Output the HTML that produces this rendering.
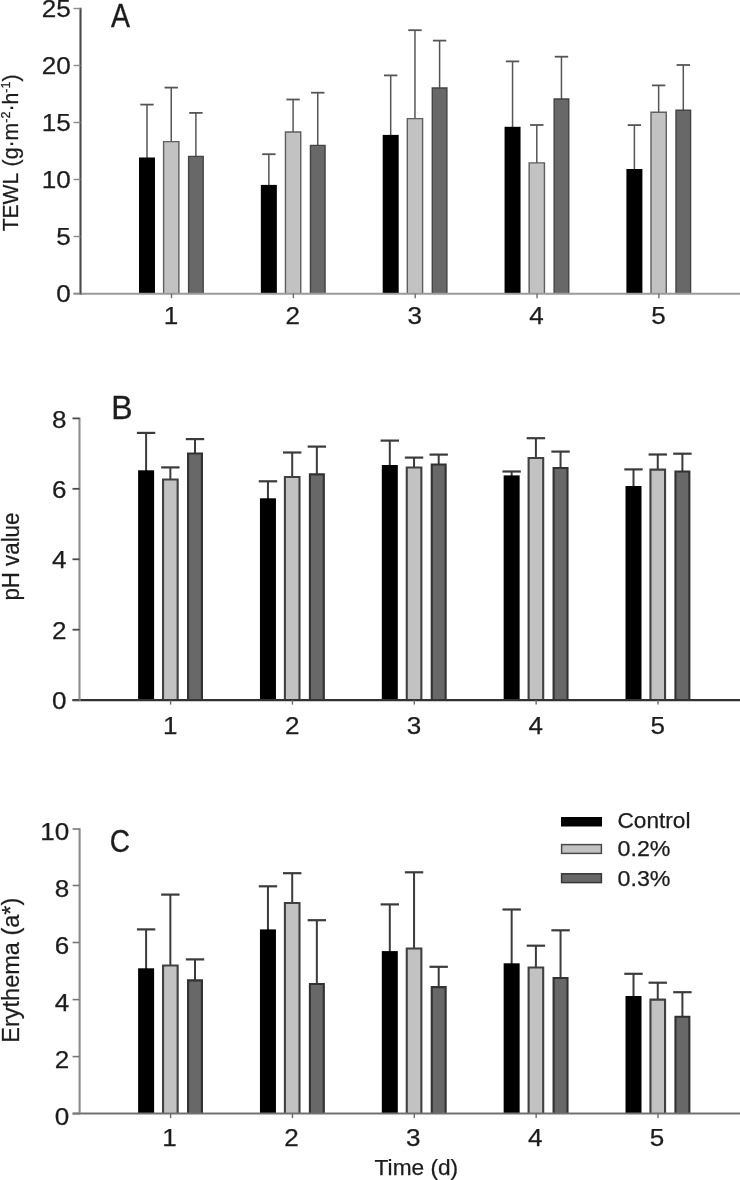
<!DOCTYPE html>
<html><head><meta charset="utf-8"><title>Figure</title>
<style>html,body{margin:0;padding:0;background:#fff}svg{display:block}</style>
</head><body>
<svg width="740" height="1180" viewBox="0 0 740 1180" font-family="Liberation Sans, sans-serif">
<rect x="0" y="0" width="740" height="1180" fill="#ffffff"/>
<defs><filter id="soft" x="-2%" y="-2%" width="104%" height="104%"><feGaussianBlur stdDeviation="0.45"/></filter></defs>
<g filter="url(#soft)">
<g><!-- panel A -->
<line x1="147.00" y1="104.60" x2="147.00" y2="158.50" stroke="#555" stroke-width="1.5"/>
<line x1="140.30" y1="104.60" x2="153.70" y2="104.60" stroke="#555" stroke-width="1.8"/>
<rect x="139.00" y="157.50" width="16" height="136.20" fill="#000"/>
<line x1="171.25" y1="87.60" x2="171.25" y2="141.90" stroke="#555" stroke-width="1.5"/>
<line x1="164.55" y1="87.60" x2="177.95" y2="87.60" stroke="#555" stroke-width="1.8"/>
<path d="M163.60,293.70V141.60H178.90V293.70" fill="#c2c2c2" stroke="#5e5e5e" stroke-width="1.4"/>
<line x1="195.90" y1="112.90" x2="195.90" y2="156.70" stroke="#555" stroke-width="1.5"/>
<line x1="189.20" y1="112.90" x2="202.60" y2="112.90" stroke="#555" stroke-width="1.8"/>
<path d="M188.60,293.70V156.40H203.20V293.70" fill="#676767" stroke="#444444" stroke-width="1.4"/>
<line x1="268.85" y1="154.20" x2="268.85" y2="185.90" stroke="#555" stroke-width="1.5"/>
<line x1="262.15" y1="154.20" x2="275.55" y2="154.20" stroke="#555" stroke-width="1.8"/>
<rect x="260.85" y="184.90" width="16" height="108.80" fill="#000"/>
<line x1="293.10" y1="99.50" x2="293.10" y2="132.30" stroke="#555" stroke-width="1.5"/>
<line x1="286.40" y1="99.50" x2="299.80" y2="99.50" stroke="#555" stroke-width="1.8"/>
<path d="M285.45,293.70V132.00H300.75V293.70" fill="#c2c2c2" stroke="#5e5e5e" stroke-width="1.4"/>
<line x1="317.75" y1="92.70" x2="317.75" y2="145.70" stroke="#555" stroke-width="1.5"/>
<line x1="311.05" y1="92.70" x2="324.45" y2="92.70" stroke="#555" stroke-width="1.8"/>
<path d="M310.45,293.70V145.40H325.05V293.70" fill="#676767" stroke="#444444" stroke-width="1.4"/>
<line x1="390.70" y1="75.40" x2="390.70" y2="135.90" stroke="#555" stroke-width="1.5"/>
<line x1="384.00" y1="75.40" x2="397.40" y2="75.40" stroke="#555" stroke-width="1.8"/>
<rect x="382.70" y="134.90" width="16" height="158.80" fill="#000"/>
<line x1="414.95" y1="30.20" x2="414.95" y2="118.90" stroke="#555" stroke-width="1.5"/>
<line x1="408.25" y1="30.20" x2="421.65" y2="30.20" stroke="#555" stroke-width="1.8"/>
<path d="M407.30,293.70V118.60H422.60V293.70" fill="#c2c2c2" stroke="#5e5e5e" stroke-width="1.4"/>
<line x1="439.60" y1="40.60" x2="439.60" y2="88.30" stroke="#555" stroke-width="1.5"/>
<line x1="432.90" y1="40.60" x2="446.30" y2="40.60" stroke="#555" stroke-width="1.8"/>
<path d="M432.30,293.70V88.00H446.90V293.70" fill="#676767" stroke="#444444" stroke-width="1.4"/>
<line x1="512.55" y1="61.40" x2="512.55" y2="127.80" stroke="#555" stroke-width="1.5"/>
<line x1="505.85" y1="61.40" x2="519.25" y2="61.40" stroke="#555" stroke-width="1.8"/>
<rect x="504.55" y="126.80" width="16" height="166.90" fill="#000"/>
<line x1="536.80" y1="125.00" x2="536.80" y2="163.20" stroke="#555" stroke-width="1.5"/>
<line x1="530.10" y1="125.00" x2="543.50" y2="125.00" stroke="#555" stroke-width="1.8"/>
<path d="M529.15,293.70V162.90H544.45V293.70" fill="#c2c2c2" stroke="#5e5e5e" stroke-width="1.4"/>
<line x1="561.45" y1="56.70" x2="561.45" y2="99.30" stroke="#555" stroke-width="1.5"/>
<line x1="554.75" y1="56.70" x2="568.15" y2="56.70" stroke="#555" stroke-width="1.8"/>
<path d="M554.15,293.70V99.00H568.75V293.70" fill="#676767" stroke="#444444" stroke-width="1.4"/>
<line x1="634.40" y1="125.10" x2="634.40" y2="170.00" stroke="#555" stroke-width="1.5"/>
<line x1="627.70" y1="125.10" x2="641.10" y2="125.10" stroke="#555" stroke-width="1.8"/>
<rect x="626.40" y="169.00" width="16" height="124.70" fill="#000"/>
<line x1="658.65" y1="85.40" x2="658.65" y2="112.50" stroke="#555" stroke-width="1.5"/>
<line x1="651.95" y1="85.40" x2="665.35" y2="85.40" stroke="#555" stroke-width="1.8"/>
<path d="M651.00,293.70V112.20H666.30V293.70" fill="#c2c2c2" stroke="#5e5e5e" stroke-width="1.4"/>
<line x1="683.30" y1="65.00" x2="683.30" y2="110.60" stroke="#555" stroke-width="1.5"/>
<line x1="676.60" y1="65.00" x2="690.00" y2="65.00" stroke="#555" stroke-width="1.8"/>
<path d="M676.00,293.70V110.30H690.60V293.70" fill="#676767" stroke="#444444" stroke-width="1.4"/>
<line x1="73.50" y1="293.7" x2="740" y2="293.7" stroke="#9a9a9a" stroke-width="1.9"/>
<line x1="80.5" y1="7.70" x2="80.5" y2="294.50" stroke="#4a4a4a" stroke-width="2.1"/>
<line x1="73.50" y1="293.5" x2="80.5" y2="293.5" stroke="#8a8a8a" stroke-width="1.4"/>
<text x="56.30" y="302.20" font-size="23.5" fill="#1c1c1c" stroke="#1c1c1c" stroke-width="0.25" textLength="14.50" lengthAdjust="spacingAndGlyphs">0</text>
<line x1="73.50" y1="236.5" x2="80.5" y2="236.5" stroke="#8a8a8a" stroke-width="1.4"/>
<text x="56.30" y="245.20" font-size="23.5" fill="#1c1c1c" stroke="#1c1c1c" stroke-width="0.25" textLength="14.50" lengthAdjust="spacingAndGlyphs">5</text>
<line x1="73.50" y1="179.5" x2="80.5" y2="179.5" stroke="#8a8a8a" stroke-width="1.4"/>
<text x="41.80" y="188.20" font-size="23.5" fill="#1c1c1c" stroke="#1c1c1c" stroke-width="0.25" textLength="29.00" lengthAdjust="spacingAndGlyphs">10</text>
<line x1="73.50" y1="122.5" x2="80.5" y2="122.5" stroke="#8a8a8a" stroke-width="1.4"/>
<text x="41.80" y="131.20" font-size="23.5" fill="#1c1c1c" stroke="#1c1c1c" stroke-width="0.25" textLength="29.00" lengthAdjust="spacingAndGlyphs">15</text>
<line x1="73.50" y1="65.5" x2="80.5" y2="65.5" stroke="#8a8a8a" stroke-width="1.4"/>
<text x="41.80" y="74.20" font-size="23.5" fill="#1c1c1c" stroke="#1c1c1c" stroke-width="0.25" textLength="29.00" lengthAdjust="spacingAndGlyphs">20</text>
<line x1="73.50" y1="8.5" x2="80.5" y2="8.5" stroke="#8a8a8a" stroke-width="1.4"/>
<text x="41.80" y="17.20" font-size="23.5" fill="#1c1c1c" stroke="#1c1c1c" stroke-width="0.25" textLength="29.00" lengthAdjust="spacingAndGlyphs">25</text>
<line x1="171.50" y1="293.7" x2="171.50" y2="298.2" stroke="#6a6a6a" stroke-width="1.4"/>
<text x="163.75" y="323.50" font-size="23.5" fill="#1c1c1c" stroke="#1c1c1c" stroke-width="0.25" textLength="14.50" lengthAdjust="spacingAndGlyphs">1</text>
<line x1="293.35" y1="293.7" x2="293.35" y2="298.2" stroke="#6a6a6a" stroke-width="1.4"/>
<text x="285.60" y="323.50" font-size="23.5" fill="#1c1c1c" stroke="#1c1c1c" stroke-width="0.25" textLength="14.50" lengthAdjust="spacingAndGlyphs">2</text>
<line x1="415.20" y1="293.7" x2="415.20" y2="298.2" stroke="#6a6a6a" stroke-width="1.4"/>
<text x="407.45" y="323.50" font-size="23.5" fill="#1c1c1c" stroke="#1c1c1c" stroke-width="0.25" textLength="14.50" lengthAdjust="spacingAndGlyphs">3</text>
<line x1="537.05" y1="293.7" x2="537.05" y2="298.2" stroke="#6a6a6a" stroke-width="1.4"/>
<text x="529.30" y="323.50" font-size="23.5" fill="#1c1c1c" stroke="#1c1c1c" stroke-width="0.25" textLength="14.50" lengthAdjust="spacingAndGlyphs">4</text>
<line x1="658.90" y1="293.7" x2="658.90" y2="298.2" stroke="#6a6a6a" stroke-width="1.4"/>
<text x="651.15" y="323.50" font-size="23.5" fill="#1c1c1c" stroke="#1c1c1c" stroke-width="0.25" textLength="14.50" lengthAdjust="spacingAndGlyphs">5</text>
</g>
<g><!-- panel B -->
<line x1="146.10" y1="432.90" x2="146.10" y2="471.30" stroke="#3a3a3a" stroke-width="2"/>
<line x1="136.90" y1="432.90" x2="155.30" y2="432.90" stroke="#3a3a3a" stroke-width="2.2"/>
<rect x="138.10" y="470.30" width="16" height="229.80" fill="#000"/>
<line x1="170.35" y1="467.40" x2="170.35" y2="479.40" stroke="#3a3a3a" stroke-width="2"/>
<line x1="161.15" y1="467.40" x2="179.55" y2="467.40" stroke="#3a3a3a" stroke-width="2.2"/>
<path d="M163.05,700.10V479.45H177.65V700.10" fill="#c2c2c2" stroke="#404040" stroke-width="2.1"/>
<line x1="195.00" y1="439.10" x2="195.00" y2="453.50" stroke="#3a3a3a" stroke-width="2"/>
<line x1="185.80" y1="439.10" x2="204.20" y2="439.10" stroke="#3a3a3a" stroke-width="2.2"/>
<path d="M188.05,700.10V453.55H201.95V700.10" fill="#676767" stroke="#303030" stroke-width="2.1"/>
<line x1="267.95" y1="481.30" x2="267.95" y2="499.30" stroke="#3a3a3a" stroke-width="2"/>
<line x1="258.75" y1="481.30" x2="277.15" y2="481.30" stroke="#3a3a3a" stroke-width="2.2"/>
<rect x="259.95" y="498.30" width="16" height="201.80" fill="#000"/>
<line x1="292.20" y1="452.50" x2="292.20" y2="477.00" stroke="#3a3a3a" stroke-width="2"/>
<line x1="283.00" y1="452.50" x2="301.40" y2="452.50" stroke="#3a3a3a" stroke-width="2.2"/>
<path d="M284.90,700.10V477.05H299.50V700.10" fill="#c2c2c2" stroke="#404040" stroke-width="2.1"/>
<line x1="316.85" y1="446.60" x2="316.85" y2="474.30" stroke="#3a3a3a" stroke-width="2"/>
<line x1="307.65" y1="446.60" x2="326.05" y2="446.60" stroke="#3a3a3a" stroke-width="2.2"/>
<path d="M309.90,700.10V474.35H323.80V700.10" fill="#676767" stroke="#303030" stroke-width="2.1"/>
<line x1="389.80" y1="440.60" x2="389.80" y2="466.00" stroke="#3a3a3a" stroke-width="2"/>
<line x1="380.60" y1="440.60" x2="399.00" y2="440.60" stroke="#3a3a3a" stroke-width="2.2"/>
<rect x="381.80" y="465.00" width="16" height="235.10" fill="#000"/>
<line x1="414.05" y1="457.60" x2="414.05" y2="467.50" stroke="#3a3a3a" stroke-width="2"/>
<line x1="404.85" y1="457.60" x2="423.25" y2="457.60" stroke="#3a3a3a" stroke-width="2.2"/>
<path d="M406.75,700.10V467.55H421.35V700.10" fill="#c2c2c2" stroke="#404040" stroke-width="2.1"/>
<line x1="438.70" y1="454.60" x2="438.70" y2="464.50" stroke="#3a3a3a" stroke-width="2"/>
<line x1="429.50" y1="454.60" x2="447.90" y2="454.60" stroke="#3a3a3a" stroke-width="2.2"/>
<path d="M431.75,700.10V464.55H445.65V700.10" fill="#676767" stroke="#303030" stroke-width="2.1"/>
<line x1="511.65" y1="471.50" x2="511.65" y2="476.40" stroke="#3a3a3a" stroke-width="2"/>
<line x1="502.45" y1="471.50" x2="520.85" y2="471.50" stroke="#3a3a3a" stroke-width="2.2"/>
<rect x="503.65" y="475.40" width="16" height="224.70" fill="#000"/>
<line x1="535.90" y1="438.20" x2="535.90" y2="458.00" stroke="#3a3a3a" stroke-width="2"/>
<line x1="526.70" y1="438.20" x2="545.10" y2="438.20" stroke="#3a3a3a" stroke-width="2.2"/>
<path d="M528.60,700.10V458.05H543.20V700.10" fill="#c2c2c2" stroke="#404040" stroke-width="2.1"/>
<line x1="560.55" y1="451.60" x2="560.55" y2="468.00" stroke="#3a3a3a" stroke-width="2"/>
<line x1="551.35" y1="451.60" x2="569.75" y2="451.60" stroke="#3a3a3a" stroke-width="2.2"/>
<path d="M553.60,700.10V468.05H567.50V700.10" fill="#676767" stroke="#303030" stroke-width="2.1"/>
<line x1="633.50" y1="469.40" x2="633.50" y2="487.00" stroke="#3a3a3a" stroke-width="2"/>
<line x1="624.30" y1="469.40" x2="642.70" y2="469.40" stroke="#3a3a3a" stroke-width="2.2"/>
<rect x="625.50" y="486.00" width="16" height="214.10" fill="#000"/>
<line x1="657.75" y1="454.50" x2="657.75" y2="469.60" stroke="#3a3a3a" stroke-width="2"/>
<line x1="648.55" y1="454.50" x2="666.95" y2="454.50" stroke="#3a3a3a" stroke-width="2.2"/>
<path d="M650.45,700.10V469.65H665.05V700.10" fill="#c2c2c2" stroke="#404040" stroke-width="2.1"/>
<line x1="682.40" y1="453.70" x2="682.40" y2="471.50" stroke="#3a3a3a" stroke-width="2"/>
<line x1="673.20" y1="453.70" x2="691.60" y2="453.70" stroke="#3a3a3a" stroke-width="2.2"/>
<path d="M675.45,700.10V471.55H689.35V700.10" fill="#676767" stroke="#303030" stroke-width="2.1"/>
<line x1="72.50" y1="700.1" x2="740" y2="700.1" stroke="#333333" stroke-width="2.1"/>
<line x1="79.5" y1="417.60" x2="79.5" y2="700.90" stroke="#8c8c8c" stroke-width="2.1"/>
<line x1="72.50" y1="700.1" x2="79.5" y2="700.1" stroke="#4a4a4a" stroke-width="1.8"/>
<text x="52.10" y="709.20" font-size="23.5" fill="#1c1c1c" stroke="#1c1c1c" stroke-width="0.25" textLength="14.50" lengthAdjust="spacingAndGlyphs">0</text>
<line x1="72.50" y1="629.7" x2="79.5" y2="629.7" stroke="#4a4a4a" stroke-width="1.8"/>
<text x="52.10" y="638.80" font-size="23.5" fill="#1c1c1c" stroke="#1c1c1c" stroke-width="0.25" textLength="14.50" lengthAdjust="spacingAndGlyphs">2</text>
<line x1="72.50" y1="559.3" x2="79.5" y2="559.3" stroke="#4a4a4a" stroke-width="1.8"/>
<text x="52.10" y="568.40" font-size="23.5" fill="#1c1c1c" stroke="#1c1c1c" stroke-width="0.25" textLength="14.50" lengthAdjust="spacingAndGlyphs">4</text>
<line x1="72.50" y1="488.8" x2="79.5" y2="488.8" stroke="#4a4a4a" stroke-width="1.8"/>
<text x="52.10" y="497.90" font-size="23.5" fill="#1c1c1c" stroke="#1c1c1c" stroke-width="0.25" textLength="14.50" lengthAdjust="spacingAndGlyphs">6</text>
<line x1="72.50" y1="418.4" x2="79.5" y2="418.4" stroke="#4a4a4a" stroke-width="1.8"/>
<text x="52.10" y="427.50" font-size="23.5" fill="#1c1c1c" stroke="#1c1c1c" stroke-width="0.25" textLength="14.50" lengthAdjust="spacingAndGlyphs">8</text>
<line x1="170.60" y1="700.1" x2="170.60" y2="704.6" stroke="#6a6a6a" stroke-width="1.4"/>
<text x="163.05" y="733.50" font-size="23.5" fill="#1c1c1c" stroke="#1c1c1c" stroke-width="0.25" textLength="14.50" lengthAdjust="spacingAndGlyphs">1</text>
<line x1="292.45" y1="700.1" x2="292.45" y2="704.6" stroke="#6a6a6a" stroke-width="1.4"/>
<text x="284.90" y="733.50" font-size="23.5" fill="#1c1c1c" stroke="#1c1c1c" stroke-width="0.25" textLength="14.50" lengthAdjust="spacingAndGlyphs">2</text>
<line x1="414.30" y1="700.1" x2="414.30" y2="704.6" stroke="#6a6a6a" stroke-width="1.4"/>
<text x="406.75" y="733.50" font-size="23.5" fill="#1c1c1c" stroke="#1c1c1c" stroke-width="0.25" textLength="14.50" lengthAdjust="spacingAndGlyphs">3</text>
<line x1="536.15" y1="700.1" x2="536.15" y2="704.6" stroke="#6a6a6a" stroke-width="1.4"/>
<text x="528.60" y="733.50" font-size="23.5" fill="#1c1c1c" stroke="#1c1c1c" stroke-width="0.25" textLength="14.50" lengthAdjust="spacingAndGlyphs">4</text>
<line x1="658.00" y1="700.1" x2="658.00" y2="704.6" stroke="#6a6a6a" stroke-width="1.4"/>
<text x="650.45" y="733.50" font-size="23.5" fill="#1c1c1c" stroke="#1c1c1c" stroke-width="0.25" textLength="14.50" lengthAdjust="spacingAndGlyphs">5</text>
</g>
<g><!-- panel C -->
<line x1="146.10" y1="929.40" x2="146.10" y2="969.30" stroke="#3a3a3a" stroke-width="2"/>
<line x1="136.90" y1="929.40" x2="155.30" y2="929.40" stroke="#3a3a3a" stroke-width="2.2"/>
<rect x="138.10" y="968.30" width="16" height="145.30" fill="#000"/>
<line x1="170.35" y1="894.60" x2="170.35" y2="965.40" stroke="#3a3a3a" stroke-width="2"/>
<line x1="161.15" y1="894.60" x2="179.55" y2="894.60" stroke="#3a3a3a" stroke-width="2.2"/>
<path d="M163.05,1113.60V965.45H177.65V1113.60" fill="#c2c2c2" stroke="#404040" stroke-width="2.1"/>
<line x1="195.00" y1="959.40" x2="195.00" y2="980.30" stroke="#3a3a3a" stroke-width="2"/>
<line x1="185.80" y1="959.40" x2="204.20" y2="959.40" stroke="#3a3a3a" stroke-width="2.2"/>
<path d="M188.05,1113.60V980.35H201.95V1113.60" fill="#676767" stroke="#303030" stroke-width="2.1"/>
<line x1="267.95" y1="886.30" x2="267.95" y2="930.40" stroke="#3a3a3a" stroke-width="2"/>
<line x1="258.75" y1="886.30" x2="277.15" y2="886.30" stroke="#3a3a3a" stroke-width="2.2"/>
<rect x="259.95" y="929.40" width="16" height="184.20" fill="#000"/>
<line x1="292.20" y1="873.20" x2="292.20" y2="903.00" stroke="#3a3a3a" stroke-width="2"/>
<line x1="283.00" y1="873.20" x2="301.40" y2="873.20" stroke="#3a3a3a" stroke-width="2.2"/>
<path d="M284.90,1113.60V903.05H299.50V1113.60" fill="#c2c2c2" stroke="#404040" stroke-width="2.1"/>
<line x1="316.85" y1="920.20" x2="316.85" y2="983.90" stroke="#3a3a3a" stroke-width="2"/>
<line x1="307.65" y1="920.20" x2="326.05" y2="920.20" stroke="#3a3a3a" stroke-width="2.2"/>
<path d="M309.90,1113.60V983.95H323.80V1113.60" fill="#676767" stroke="#303030" stroke-width="2.1"/>
<line x1="389.80" y1="904.40" x2="389.80" y2="952.10" stroke="#3a3a3a" stroke-width="2"/>
<line x1="380.60" y1="904.40" x2="399.00" y2="904.40" stroke="#3a3a3a" stroke-width="2.2"/>
<rect x="381.80" y="951.10" width="16" height="162.50" fill="#000"/>
<line x1="414.05" y1="872.30" x2="414.05" y2="948.50" stroke="#3a3a3a" stroke-width="2"/>
<line x1="404.85" y1="872.30" x2="423.25" y2="872.30" stroke="#3a3a3a" stroke-width="2.2"/>
<path d="M406.75,1113.60V948.55H421.35V1113.60" fill="#c2c2c2" stroke="#404040" stroke-width="2.1"/>
<line x1="438.70" y1="966.80" x2="438.70" y2="987.10" stroke="#3a3a3a" stroke-width="2"/>
<line x1="429.50" y1="966.80" x2="447.90" y2="966.80" stroke="#3a3a3a" stroke-width="2.2"/>
<path d="M431.75,1113.60V987.15H445.65V1113.60" fill="#676767" stroke="#303030" stroke-width="2.1"/>
<line x1="511.65" y1="909.50" x2="511.65" y2="964.30" stroke="#3a3a3a" stroke-width="2"/>
<line x1="502.45" y1="909.50" x2="520.85" y2="909.50" stroke="#3a3a3a" stroke-width="2.2"/>
<rect x="503.65" y="963.30" width="16" height="150.30" fill="#000"/>
<line x1="535.90" y1="945.70" x2="535.90" y2="967.50" stroke="#3a3a3a" stroke-width="2"/>
<line x1="526.70" y1="945.70" x2="545.10" y2="945.70" stroke="#3a3a3a" stroke-width="2.2"/>
<path d="M528.60,1113.60V967.55H543.20V1113.60" fill="#c2c2c2" stroke="#404040" stroke-width="2.1"/>
<line x1="560.55" y1="930.30" x2="560.55" y2="977.90" stroke="#3a3a3a" stroke-width="2"/>
<line x1="551.35" y1="930.30" x2="569.75" y2="930.30" stroke="#3a3a3a" stroke-width="2.2"/>
<path d="M553.60,1113.60V977.95H567.50V1113.60" fill="#676767" stroke="#303030" stroke-width="2.1"/>
<line x1="633.50" y1="973.80" x2="633.50" y2="997.00" stroke="#3a3a3a" stroke-width="2"/>
<line x1="624.30" y1="973.80" x2="642.70" y2="973.80" stroke="#3a3a3a" stroke-width="2.2"/>
<rect x="625.50" y="996.00" width="16" height="117.60" fill="#000"/>
<line x1="657.75" y1="982.70" x2="657.75" y2="999.60" stroke="#3a3a3a" stroke-width="2"/>
<line x1="648.55" y1="982.70" x2="666.95" y2="982.70" stroke="#3a3a3a" stroke-width="2.2"/>
<path d="M650.45,1113.60V999.65H665.05V1113.60" fill="#c2c2c2" stroke="#404040" stroke-width="2.1"/>
<line x1="682.40" y1="992.20" x2="682.40" y2="1016.70" stroke="#3a3a3a" stroke-width="2"/>
<line x1="673.20" y1="992.20" x2="691.60" y2="992.20" stroke="#3a3a3a" stroke-width="2.2"/>
<path d="M675.45,1113.60V1016.75H689.35V1113.60" fill="#676767" stroke="#303030" stroke-width="2.1"/>
<line x1="72.60" y1="1113.6" x2="740" y2="1113.6" stroke="#707070" stroke-width="2.0"/>
<line x1="79.6" y1="828.20" x2="79.6" y2="1114.40" stroke="#8c8c8c" stroke-width="2.1"/>
<line x1="72.60" y1="1113.6" x2="79.6" y2="1113.6" stroke="#777777" stroke-width="1.6"/>
<text x="54.70" y="1124.70" font-size="23.5" fill="#1c1c1c" stroke="#1c1c1c" stroke-width="0.25" textLength="14.50" lengthAdjust="spacingAndGlyphs">0</text>
<line x1="72.60" y1="1056.6" x2="79.6" y2="1056.6" stroke="#777777" stroke-width="1.6"/>
<text x="54.70" y="1067.70" font-size="23.5" fill="#1c1c1c" stroke="#1c1c1c" stroke-width="0.25" textLength="14.50" lengthAdjust="spacingAndGlyphs">2</text>
<line x1="72.60" y1="999.6" x2="79.6" y2="999.6" stroke="#777777" stroke-width="1.6"/>
<text x="54.70" y="1010.70" font-size="23.5" fill="#1c1c1c" stroke="#1c1c1c" stroke-width="0.25" textLength="14.50" lengthAdjust="spacingAndGlyphs">4</text>
<line x1="72.60" y1="942.5" x2="79.6" y2="942.5" stroke="#777777" stroke-width="1.6"/>
<text x="54.70" y="953.60" font-size="23.5" fill="#1c1c1c" stroke="#1c1c1c" stroke-width="0.25" textLength="14.50" lengthAdjust="spacingAndGlyphs">6</text>
<line x1="72.60" y1="885.5" x2="79.6" y2="885.5" stroke="#777777" stroke-width="1.6"/>
<text x="54.70" y="896.60" font-size="23.5" fill="#1c1c1c" stroke="#1c1c1c" stroke-width="0.25" textLength="14.50" lengthAdjust="spacingAndGlyphs">8</text>
<line x1="72.60" y1="829.0" x2="79.6" y2="829.0" stroke="#777777" stroke-width="1.6"/>
<text x="40.20" y="840.10" font-size="23.5" fill="#1c1c1c" stroke="#1c1c1c" stroke-width="0.25" textLength="29.00" lengthAdjust="spacingAndGlyphs">10</text>
<line x1="170.60" y1="1113.6" x2="170.60" y2="1118.1" stroke="#6a6a6a" stroke-width="1.4"/>
<text x="162.35" y="1146.20" font-size="23.5" fill="#1c1c1c" stroke="#1c1c1c" stroke-width="0.25" textLength="14.50" lengthAdjust="spacingAndGlyphs">1</text>
<line x1="292.45" y1="1113.6" x2="292.45" y2="1118.1" stroke="#6a6a6a" stroke-width="1.4"/>
<text x="284.20" y="1146.20" font-size="23.5" fill="#1c1c1c" stroke="#1c1c1c" stroke-width="0.25" textLength="14.50" lengthAdjust="spacingAndGlyphs">2</text>
<line x1="414.30" y1="1113.6" x2="414.30" y2="1118.1" stroke="#6a6a6a" stroke-width="1.4"/>
<text x="406.05" y="1146.20" font-size="23.5" fill="#1c1c1c" stroke="#1c1c1c" stroke-width="0.25" textLength="14.50" lengthAdjust="spacingAndGlyphs">3</text>
<line x1="536.15" y1="1113.6" x2="536.15" y2="1118.1" stroke="#6a6a6a" stroke-width="1.4"/>
<text x="527.90" y="1146.20" font-size="23.5" fill="#1c1c1c" stroke="#1c1c1c" stroke-width="0.25" textLength="14.50" lengthAdjust="spacingAndGlyphs">4</text>
<line x1="658.00" y1="1113.6" x2="658.00" y2="1118.1" stroke="#6a6a6a" stroke-width="1.4"/>
<text x="649.75" y="1146.20" font-size="23.5" fill="#1c1c1c" stroke="#1c1c1c" stroke-width="0.25" textLength="14.50" lengthAdjust="spacingAndGlyphs">5</text>
</g>
<text x="110.9" y="27.2" font-size="32.5" fill="#1c1c1c" stroke="#1c1c1c" stroke-width="0.35" textLength="19" lengthAdjust="spacingAndGlyphs">A</text>
<text x="111.2" y="419.1" font-size="32.5" fill="#1c1c1c" stroke="#1c1c1c" stroke-width="0.35" textLength="21.3" lengthAdjust="spacingAndGlyphs">B</text>
<text x="109.8" y="851.9" font-size="32" fill="#1c1c1c" stroke="#1c1c1c" stroke-width="0.35" textLength="20.2" lengthAdjust="spacingAndGlyphs">C</text>
<text transform="translate(18.3,231.3) rotate(-90)" font-size="22" fill="#1c1c1c" stroke="#1c1c1c" stroke-width="0.25" textLength="58.5" lengthAdjust="spacingAndGlyphs">TEWL</text>
<text transform="translate(18.3,166.4) rotate(-90)" font-size="22" fill="#1c1c1c" stroke="#1c1c1c" stroke-width="0.25" textLength="92" lengthAdjust="spacingAndGlyphs">(g·m<tspan font-size="13" dy="-8.5">-2</tspan><tspan dy="8.5">·h</tspan><tspan font-size="13" dy="-8.5">-1</tspan><tspan dy="8.5">)</tspan></text>
<text transform="translate(18.8,600.6) rotate(-90)" font-size="23" fill="#1c1c1c" stroke="#1c1c1c" stroke-width="0.25" textLength="88" lengthAdjust="spacingAndGlyphs">pH value</text>
<text transform="translate(18.6,1042.7) rotate(-90)" font-size="23" fill="#1c1c1c" stroke="#1c1c1c" stroke-width="0.25" textLength="145" lengthAdjust="spacingAndGlyphs">Erythema (a*)</text>
<text x="374.6" y="1174.8" font-size="22" fill="#1c1c1c" stroke="#1c1c1c" stroke-width="0.25" textLength="83.5" lengthAdjust="spacingAndGlyphs">Time (d)</text>
<rect x="561" y="817" width="41" height="9.5" fill="#000"/>
<rect x="561.6" y="844.6" width="39.8" height="8.8" fill="#c2c2c2" stroke="#4a4a4a" stroke-width="1.5"/>
<rect x="561.6" y="873.8" width="39.8" height="8.8" fill="#676767" stroke="#383838" stroke-width="1.5"/>
<text x="617.5" y="827.6" font-size="21.5" fill="#1c1c1c" stroke="#1c1c1c" stroke-width="0.25" textLength="73" lengthAdjust="spacingAndGlyphs">Control</text>
<text x="617.5" y="856.2" font-size="21.5" fill="#1c1c1c" stroke="#1c1c1c" stroke-width="0.25" textLength="53" lengthAdjust="spacingAndGlyphs">0.2%</text>
<text x="617.5" y="885.6" font-size="21.5" fill="#1c1c1c" stroke="#1c1c1c" stroke-width="0.25" textLength="53" lengthAdjust="spacingAndGlyphs">0.3%</text>
</g>
</svg>
</body></html>
